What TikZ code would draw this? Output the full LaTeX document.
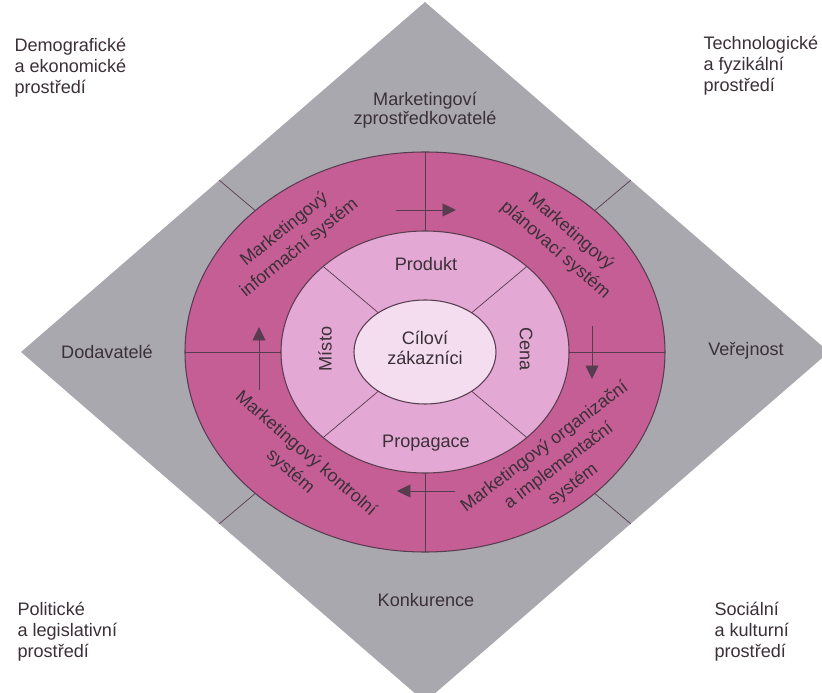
\documentclass[tikz,border=0pt]{standalone}
\usepackage{fontspec}
\setmainfont{Liberation Sans}
\usetikzlibrary{arrows.meta}

\definecolor{envgrey}{RGB}{170,168,175}
\definecolor{ringdark}{RGB}{198,94,150}
\definecolor{ringlight}{RGB}{227,168,211}
\definecolor{core}{RGB}{245,221,240}
\definecolor{rim}{RGB}{88,60,80}
\definecolor{ink}{RGB}{58,48,56}

\begin{document}
\begin{tikzpicture}[x=0.02cm, y=0.02cm, semithick,
  txt/.style={font=\fontsize{10.3}{11}\selectfont, text=ink, align=center, inner sep=0pt},
  ringlabel/.style={txt, font=\fontsize{10.2}{13.5}\selectfont},
  envtext/.style={txt, font=\fontsize{10.3}{12}\selectfont, align=left, anchor=west},
  divider/.style={draw=rim, thin},
  flow/.style={draw=rim, thin, -{Triangle[length=0.27cm, width=0.26cm]}}
]
  \clip (-425,-341) rectangle (397,352);

  % environment diamond
  \fill[envgrey] (0,350) -- (404,0) -- (0,-350) -- (-404,0) -- cycle;
  \foreach \a in {45,135,225,315}
    \draw[divider] (\a:240 and 200) -- (\a:291 and 243);

  % rings
  \draw[draw=rim, fill=ringdark] (0,0) ellipse [x radius=240, y radius=200];
  \draw[draw=rim, fill=ringlight] (0,0) ellipse [x radius=144, y radius=121];
  \draw[draw=rim, fill=core] (0,0) ellipse [x radius=71, y radius=52];

  \draw[divider] (0,121) -- (0,200);
  \draw[divider] (0,-121) -- (0,-200);
  \draw[divider] (-144,0) -- (-240,0);
  \draw[divider] (144,0) -- (240,0);
  \foreach \a in {45,135,225,315}
    \draw[divider] (\a:144 and 121) -- (\a:66 and 55.5);

  % flow between the systems
  \coordinate (infoA) at (-29,142);  \coordinate (infoB) at (31,142);
  \coordinate (planA) at (167,26);   \coordinate (planB) at (167,-27);
  \coordinate (implA) at (30,-139);  \coordinate (implB) at (-28,-139);
  \coordinate (kontA) at (-166,-38); \coordinate (kontB) at (-166,25);
  \draw[flow] (infoA) -- (infoB);
  \draw[flow] (planA) -- (planB);
  \draw[flow] (implA) -- (implB);
  \draw[flow] (kontA) -- (kontB);

  % marketing systems
  \node[ringlabel, rotate=39] (infosys) at (-133,113) {Marketingový\\informační systém};
  \node[ringlabel, rotate=-41] (plansys) at (138,111) {Marketingový\\plánovací systém};
  \node[ringlabel, rotate=-41] (kontsys) at (-127,-111) {Marketingový kontrolní\\systém};
  \node[ringlabel, rotate=37] (implsys) at (134,-114) {Marketingový organizační\\a implementační\\systém};

  % marketing mix and target customers
  \node[txt] (zakaznici) at (0,4) {Cíloví\\zákazníci};
  \node[txt] (produkt) at (1,88) {Produkt};
  \node[txt] (propagace) at (1,-91) {Propagace};
  \node[txt, rotate=90] (misto) at (-100,3) {Místo};
  \node[txt, rotate=-90] (cena) at (101,3) {Cena};

  % actors
  \node[txt] (zprostredkovatele) at (0,242) {Marketingoví\\zprostředkovatelé};
  \node[txt] (dodavatele) at (-318,0) {Dodavatelé};
  \node[txt] (verejnost) at (321,1) {Veřejnost};
  \node[txt] (konkurence) at (1,-248) {Konkurence};

  % macro environment
  \node[envtext] (demograf) at (-411,284) {Demografické\\a ekonomické\\prostředí};
  \node[envtext] (technolog) at (278,286) {Technologické\\a fyzikální\\prostředí};
  \node[envtext] (politic) at (-408,-280) {Politické\\a legislativní\\prostředí};
  \node[envtext] (social) at (289,-280) {Sociální\\a kulturní\\prostředí};
\end{tikzpicture}
\end{document}
